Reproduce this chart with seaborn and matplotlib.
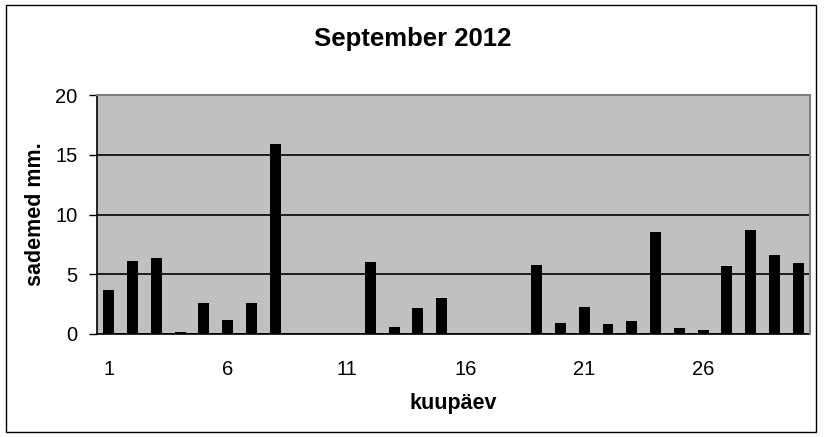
import numpy as np
import pandas as pd
import seaborn as sns
import matplotlib
matplotlib.use("Agg")
import matplotlib.pyplot as plt
from matplotlib.patches import Rectangle

# Data
days = list(range(1, 31))
rain_mm = [3.7, 6.1, 6.4, 0.2, 2.6, 1.2, 2.6, 15.9, 0.1, 0.0,
           0.0, 6.0, 0.6, 2.2, 3.0, 0.0, 0.0, 0.0, 5.8, 0.9,
           2.3, 0.8, 1.1, 8.5, 0.5, 0.3, 5.7, 8.7, 6.6, 5.9]
tick_labels = ["1", "6", "11", "16", "21", "26"]

df = pd.DataFrame({"day": [str(d) for d in days], "rain": rain_mm})

sns.set_style("white")
plt.rcParams["font.family"] = ["Liberation Sans", "DejaVu Sans"]
plt.rcParams["text.color"] = "black"
plt.rcParams["axes.labelcolor"] = "black"
plt.rcParams["xtick.color"] = "black"
plt.rcParams["ytick.color"] = "black"

fig = plt.figure(figsize=(8.25, 4.37), dpi=100)
ax = fig.add_axes([0.1176, 0.2357, 0.8642, 0.5469])
ax.set_facecolor("#c0c0c0")

sns.barplot(data=df, x="day", y="rain", color="black", width=0.46,
            saturation=1, edgecolor="none", linewidth=0, ax=ax, zorder=3)

ax.set_ylim(0, 20)
ax.set_xlim(-0.5, 29.5)
ax.set_yticks([0, 5, 10, 15, 20])
ax.set_yticklabels(["0", "5", "10", "15", "20"], fontsize=14.5)
ax.yaxis.grid(True, color="black", linewidth=1.2, zorder=1)
ax.set_axisbelow(True)

ax.set_xticks(range(0, 30, 5))
ax.set_xticklabels(tick_labels, fontsize=14.5)
ax.set_xticks(np.arange(-0.5, 30, 1), minor=True)
ax.tick_params(axis="x", which="major", length=0, pad=19)
ax.tick_params(axis="x", which="minor", length=6, width=1,
               color="black", direction="out")
ax.tick_params(axis="y", length=6, width=1, color="black",
               direction="out", left=True, pad=8)

for side in ("left", "bottom"):
    ax.spines[side].set_color("black")
    ax.spines[side].set_linewidth(1.2)
for side in ("top", "right"):
    ax.spines[side].set_color("#808080")
    ax.spines[side].set_linewidth(1.5)
    ax.spines[side].set_zorder(5)

ax.set_xlabel("kuupäev", fontsize=15.5, fontweight="bold")
ax.xaxis.set_label_coords(0.5, -0.245)
ax.set_ylabel("sademed mm.", fontsize=15.5, fontweight="bold")
ax.yaxis.set_label_coords(-0.072, 0.5)
fig.text(0.5, 1 - 46 / 437, "September 2012", fontsize=18.5,
         fontweight="bold", ha="center", va="baseline")

fig.patches.append(Rectangle((0.007, 0.012), 0.982, 0.976,
                             transform=fig.transFigure, fill=False,
                             edgecolor="black", linewidth=1))

fig.savefig("out.png", dpi=100)
